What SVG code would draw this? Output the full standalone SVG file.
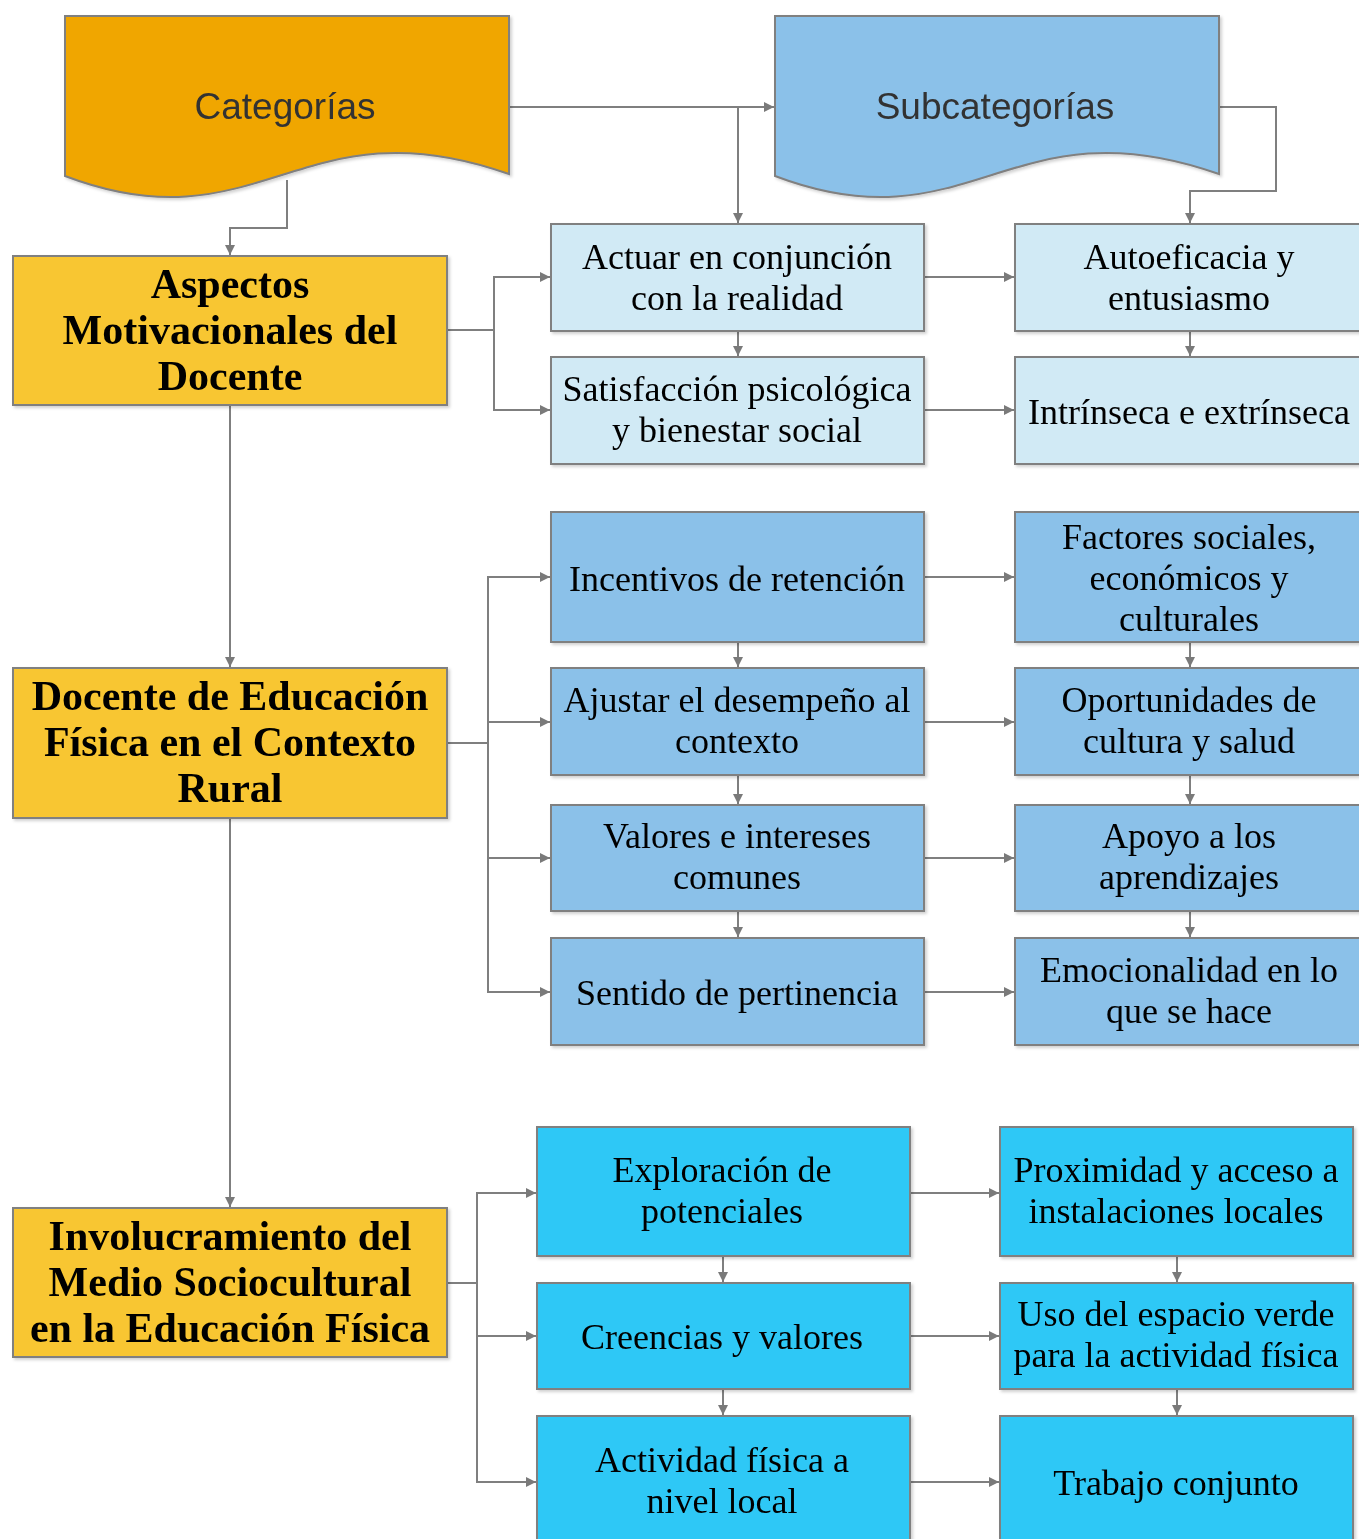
<svg xmlns="http://www.w3.org/2000/svg" width="1359" height="1539" viewBox="0 0 1359 1539">
<style>
.bx{stroke:#808080;stroke-width:2}
.cat{fill:#F0A602}
.sub{fill:#8BC1E9}
.hd{fill:#F8C630}
.l1{fill:#D1EAF5}
.l2{fill:#8BC1E9}
.l3{fill:#2FC8F6}
.sans{font-family:"Liberation Sans",Arial,sans-serif;font-size:37px;fill:#333;text-anchor:middle}
.ser{font-family:"Liberation Serif","Times New Roman",serif;font-size:36px;fill:#000;text-anchor:middle}
.bold{font-family:"Liberation Serif","Times New Roman",serif;font-size:42px;font-weight:bold;fill:#000;text-anchor:middle}
.cn{fill:none;stroke:#7f7f7f;stroke-width:2}
.ar{marker-end:url(#ah)}
</style>
<defs>
<marker id="ah" markerUnits="userSpaceOnUse" markerWidth="11" markerHeight="10" refX="10" refY="5" orient="auto">
<path d="M0,0 L10,5 L0,10 z" fill="#7a7a7a"/>
</marker>
<filter id="sh" x="-5%" y="-5%" width="115%" height="115%">
<feDropShadow dx="2" dy="2" stdDeviation="1.5" flood-color="#000" flood-opacity="0.18"/>
</filter>
</defs>
<rect width="1359" height="1539" fill="#fff"/>

<g id="connectors">
<path class="cn ar" d="M509,107 H774"/>
<path class="cn ar" d="M738,107 V223"/>
<path class="cn ar" d="M1219,107 H1276 V191 H1190 V223"/>
<path class="cn ar" d="M287,180 V228 H230 V255"/>
<path class="cn ar" d="M230,405 V667"/>
<path class="cn ar" d="M230,818 V1207"/>
<path class="cn ar" d="M447,330 H494 V277 H550"/>
<path class="cn ar" d="M494,330 V410 H550"/>
<path class="cn ar" d="M924,277 H1014"/>
<path class="cn ar" d="M924,410 H1014"/>
<path class="cn ar" d="M738,331 V356"/>
<path class="cn ar" d="M1190,331 V356"/>
<path class="cn ar" d="M447,743 H488 V577 H550"/>
<path class="cn ar" d="M488,743 V992 H550"/>
<path class="cn ar" d="M488,722 H550"/>
<path class="cn ar" d="M488,858 H550"/>
<path class="cn ar" d="M924,577 H1014"/>
<path class="cn ar" d="M924,722 H1014"/>
<path class="cn ar" d="M924,858 H1014"/>
<path class="cn ar" d="M924,992 H1014"/>
<path class="cn ar" d="M738,642 V667"/>
<path class="cn ar" d="M738,775 V804"/>
<path class="cn ar" d="M738,911 V937"/>
<path class="cn ar" d="M1190,642 V667"/>
<path class="cn ar" d="M1190,775 V804"/>
<path class="cn ar" d="M1190,911 V937"/>
<path class="cn ar" d="M447,1283 H477 V1193 H536"/>
<path class="cn ar" d="M477,1283 V1482 H536"/>
<path class="cn ar" d="M477,1336 H536"/>
<path class="cn ar" d="M910,1193 H999"/>
<path class="cn ar" d="M910,1336 H999"/>
<path class="cn ar" d="M910,1482 H999"/>
<path class="cn ar" d="M723,1256 V1282"/>
<path class="cn ar" d="M723,1389 V1415"/>
<path class="cn ar" d="M1177,1256 V1282"/>
<path class="cn ar" d="M1177,1389 V1415"/>
</g>

<g id="categorias" filter="url(#sh)">
<path class="bx cat" d="M65,16 H509 V174 C300,100 260,250 65,176 Z"/>
<text class="sans" x="285" y="119">Categorías</text>
</g>
<g id="subcategorias" filter="url(#sh)">
<path class="bx sub" d="M775,16 H1219 V174 C1010,100 970,250 775,176 Z"/>
<text class="sans" x="995" y="119">Subcategorías</text>
</g>

<g id="aspectos" filter="url(#sh)">
<rect class="bx hd" x="13" y="256" width="434" height="149"/>
<text class="bold" x="230" y="298">Aspectos</text>
<text class="bold" x="230" y="344">Motivacionales del</text>
<text class="bold" x="230" y="390">Docente</text>
</g>
<g id="docente" filter="url(#sh)">
<rect class="bx hd" x="13" y="668" width="434" height="150"/>
<text class="bold" x="230" y="710">Docente de Educación</text>
<text class="bold" x="230" y="756">Física en el Contexto</text>
<text class="bold" x="230" y="802">Rural</text>
</g>
<g id="involucramiento" filter="url(#sh)">
<rect class="bx hd" x="13" y="1208" width="434" height="149"/>
<text class="bold" x="230" y="1250">Involucramiento del</text>
<text class="bold" x="230" y="1296">Medio Sociocultural</text>
<text class="bold" x="230" y="1342">en la Educación Física</text>
</g>

<g id="actuar" filter="url(#sh)">
<rect class="bx l1" x="551" y="224" width="373" height="107"/>
<text class="ser" x="737" y="269">Actuar en conjunción</text>
<text class="ser" x="737" y="310">con la realidad</text>
</g>
<g id="satisfaccion" filter="url(#sh)">
<rect class="bx l1" x="551" y="357" width="373" height="107"/>
<text class="ser" x="737" y="401">Satisfacción psicológica</text>
<text class="ser" x="737" y="442">y bienestar social</text>
</g>
<g id="autoeficacia" filter="url(#sh)">
<rect class="bx l1" x="1015" y="224" width="348" height="107"/>
<text class="ser" x="1189" y="269">Autoeficacia y</text>
<text class="ser" x="1189" y="310">entusiasmo</text>
</g>
<g id="intrinseca" filter="url(#sh)">
<rect class="bx l1" x="1015" y="357" width="348" height="107"/>
<text class="ser" x="1189" y="424">Intrínseca e extrínseca</text>
</g>

<g id="incentivos" filter="url(#sh)">
<rect class="bx l2" x="551" y="512" width="373" height="130"/>
<text class="ser" x="737" y="591">Incentivos de retención</text>
</g>
<g id="ajustar" filter="url(#sh)">
<rect class="bx l2" x="551" y="668" width="373" height="107"/>
<text class="ser" x="737" y="712">Ajustar el desempeño al</text>
<text class="ser" x="737" y="753">contexto</text>
</g>
<g id="valores" filter="url(#sh)">
<rect class="bx l2" x="551" y="805" width="373" height="106"/>
<text class="ser" x="737" y="848">Valores e intereses</text>
<text class="ser" x="737" y="889">comunes</text>
</g>
<g id="sentido" filter="url(#sh)">
<rect class="bx l2" x="551" y="938" width="373" height="107"/>
<text class="ser" x="737" y="1005">Sentido de pertinencia</text>
</g>
<g id="factores" filter="url(#sh)">
<rect class="bx l2" x="1015" y="512" width="348" height="130"/>
<text class="ser" x="1189" y="549">Factores sociales,</text>
<text class="ser" x="1189" y="590">económicos y</text>
<text class="ser" x="1189" y="631">culturales</text>
</g>
<g id="oportunidades" filter="url(#sh)">
<rect class="bx l2" x="1015" y="668" width="348" height="107"/>
<text class="ser" x="1189" y="712">Oportunidades de</text>
<text class="ser" x="1189" y="753">cultura y salud</text>
</g>
<g id="apoyo" filter="url(#sh)">
<rect class="bx l2" x="1015" y="805" width="348" height="106"/>
<text class="ser" x="1189" y="848">Apoyo a los</text>
<text class="ser" x="1189" y="889">aprendizajes</text>
</g>
<g id="emocionalidad" filter="url(#sh)">
<rect class="bx l2" x="1015" y="938" width="348" height="107"/>
<text class="ser" x="1189" y="982">Emocionalidad en lo</text>
<text class="ser" x="1189" y="1023">que se hace</text>
</g>

<g id="exploracion" filter="url(#sh)">
<rect class="bx l3" x="537" y="1127" width="373" height="129"/>
<text class="ser" x="722" y="1182">Exploración de</text>
<text class="ser" x="722" y="1223">potenciales</text>
</g>
<g id="creencias" filter="url(#sh)">
<rect class="bx l3" x="537" y="1283" width="373" height="106"/>
<text class="ser" x="722" y="1349">Creencias y valores</text>
</g>
<g id="actividad" filter="url(#sh)">
<rect class="bx l3" x="537" y="1416" width="373" height="140"/>
<text class="ser" x="722" y="1472">Actividad física a</text>
<text class="ser" x="722" y="1513">nivel local</text>
</g>
<g id="proximidad" filter="url(#sh)">
<rect class="bx l3" x="1000" y="1127" width="353" height="129"/>
<text class="ser" x="1176" y="1182">Proximidad y acceso a</text>
<text class="ser" x="1176" y="1223">instalaciones locales</text>
</g>
<g id="uso" filter="url(#sh)">
<rect class="bx l3" x="1000" y="1283" width="353" height="106"/>
<text class="ser" x="1176" y="1326">Uso del espacio verde</text>
<text class="ser" x="1176" y="1367">para la actividad física</text>
</g>
<g id="trabajo" filter="url(#sh)">
<rect class="bx l3" x="1000" y="1416" width="353" height="140"/>
<text class="ser" x="1176" y="1495">Trabajo conjunto</text>
</g>
</svg>
